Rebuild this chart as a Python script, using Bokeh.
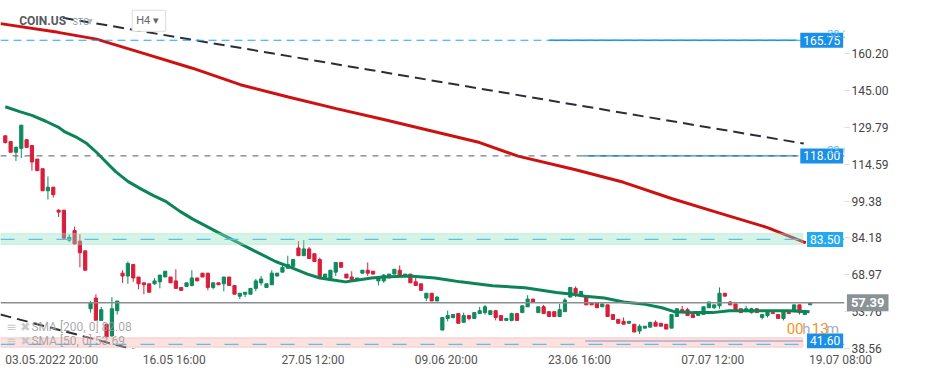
from bokeh.plotting import figure
from bokeh.models import (ColumnDataSource, FixedTicker, PrintfTickFormatter, Span,
                          BoxAnnotation, Label, Range1d)
from bokeh.embed import file_html
from bokeh.resources import INLINE

# ---------------- data (H4 candles, COIN.US) ----------------
opens = [126.3, 123.9, 119.5, 121.1, 124.7, 122.3, 116.7, 112.7, 103.6, 105.1,
         95.6, 95.6, 83.2, 87.2, 82.8, 78.8, 54.9, 59.3, 50.1, 48.5,
         43.7, 54.1, 69.6, 68.4, 73.2, 68.0, 65.6, 65.2, 65.2, 66.0,
         68.0, 68.0, 66.4, 63.7, 64.1, 64.5, 67.6, 69.6, 69.6, 63.7,
         65.6, 65.2, 68.0, 64.5, 60.1, 60.9, 60.9, 63.3, 65.6, 63.7,
         64.8, 68.4, 70.0, 71.6, 72.4, 80.0, 76.8, 79.6, 77.6, 75.2,
         67.6, 67.2, 70.0, 74.0, 69.2, 68.0, 66.8, 69.6, 70.8, 70.4,
         66.4, 66.4, 67.6, 69.2, 70.8, 68.4, 69.2, 66.0, 65.2, 59.3,
         61.3, 58.1, 46.1, 50.9, 51.3, 52.9, 49.3, 52.1, 50.9, 52.9,
         53.3, 52.5, 54.1, 52.1, 50.1, 50.1, 52.9, 53.3, 55.7, 58.9,
         53.3, 55.7, 53.7, 53.7, 51.7, 53.7, 59.7, 63.3, 60.1, 59.7,
         57.3, 57.3, 55.7, 56.5, 52.5, 50.5, 49.7, 48.9, 48.5, 45.7,
         46.9, 47.3, 49.3, 48.9, 48.5, 46.9, 51.7, 54.5, 54.5, 52.5,
         52.1, 52.5, 55.3, 55.3, 56.1, 61.3, 57.7, 56.9, 54.9, 53.7,
         53.3, 54.9, 51.3, 52.1, 53.3, 52.5, 50.9, 53.3, 53.7, 56.5,
         52.5, 56.5]
highs = [126.3, 123.9, 121.9, 130.7, 124.7, 122.3, 116.7, 112.7, 109.5, 105.1,
         96.0, 95.6, 85.6, 88.8, 85.6, 78.8, 58.1, 60.9, 55.7, 48.5,
         59.7, 58.1, 70.8, 74.4, 73.2, 68.0, 65.6, 65.2, 67.6, 68.8,
         70.4, 68.0, 71.2, 63.7, 65.6, 70.8, 67.6, 69.6, 69.6, 65.6,
         65.6, 68.0, 68.0, 64.5, 61.3, 61.7, 63.3, 67.2, 68.4, 65.2,
         70.8, 69.6, 73.2, 76.8, 75.2, 82.8, 83.2, 80.4, 77.6, 76.0,
         69.2, 70.8, 74.0, 74.0, 69.2, 70.4, 67.6, 70.8, 74.0, 70.4,
         67.6, 69.2, 69.2, 71.2, 72.8, 69.2, 69.2, 67.6, 65.2, 61.3,
         61.3, 60.1, 51.3, 54.1, 52.5, 52.9, 53.3, 52.1, 53.3, 55.7,
         56.5, 54.1, 54.1, 52.1, 50.9, 53.3, 52.9, 56.1, 60.5, 58.9,
         55.7, 56.5, 53.7, 53.7, 56.9, 59.3, 63.7, 64.1, 62.1, 59.7,
         57.3, 57.7, 56.9, 56.5, 52.5, 50.5, 51.3, 49.7, 48.5, 48.5,
         47.7, 49.3, 50.1, 48.9, 48.5, 52.5, 54.9, 56.1, 55.3, 52.5,
         53.7, 55.7, 57.7, 56.5, 63.7, 61.3, 58.1, 56.9, 54.9, 56.1,
         55.3, 54.9, 52.5, 54.1, 53.3, 52.5, 54.1, 53.3, 56.5, 56.5,
         53.3, 57.7]
lows = [123.1, 119.5, 115.9, 117.1, 121.5, 111.9, 111.9, 103.6, 100.0, 100.8,
        92.8, 83.6, 82.4, 81.6, 72.0, 70.8, 53.3, 50.1, 50.1, 43.3,
        43.3, 52.5, 65.6, 65.2, 66.0, 62.9, 60.9, 61.7, 64.8, 63.3,
        68.0, 65.6, 63.3, 62.5, 64.1, 64.1, 66.4, 68.0, 62.5, 62.9,
        64.8, 62.1, 64.5, 60.9, 58.9, 59.7, 60.9, 62.1, 64.5, 63.7,
        64.8, 68.4, 70.0, 71.6, 72.4, 76.8, 76.8, 75.6, 74.4, 68.0,
        67.6, 67.2, 68.4, 72.0, 67.6, 66.4, 66.8, 69.6, 68.4, 69.2,
        64.5, 65.6, 67.6, 69.2, 68.4, 68.4, 65.6, 64.5, 62.5, 58.1,
        58.1, 58.1, 46.1, 49.7, 50.9, 48.9, 49.3, 50.1, 50.9, 52.9,
        52.5, 52.5, 50.1, 50.1, 50.1, 49.7, 50.1, 53.3, 55.7, 57.7,
        53.3, 52.9, 51.7, 51.7, 51.7, 53.7, 59.7, 59.7, 60.1, 56.5,
        56.5, 55.3, 55.7, 51.7, 50.5, 48.9, 48.5, 48.9, 45.3, 44.5,
        46.9, 47.3, 47.7, 47.7, 46.5, 46.9, 51.7, 53.3, 52.1, 51.3,
        52.1, 52.5, 55.3, 54.9, 54.9, 60.1, 56.5, 54.1, 53.3, 53.7,
        52.9, 53.3, 50.5, 51.3, 52.9, 50.9, 50.1, 52.9, 53.7, 52.5,
        52.5, 56.5]
closes = [123.5, 119.5, 121.5, 130.7, 121.5, 115.5, 111.9, 103.6, 105.1, 102.0,
          94.8, 84.0, 84.4, 81.6, 78.0, 70.8, 57.3, 50.1, 54.5, 43.3,
          54.9, 58.1, 68.4, 73.6, 67.6, 65.2, 64.8, 61.7, 66.4, 68.8,
          70.4, 65.6, 63.3, 62.5, 65.6, 67.6, 66.4, 68.0, 63.7, 65.6,
          64.8, 68.0, 64.5, 60.9, 61.3, 61.7, 63.3, 66.4, 67.2, 65.2,
          69.6, 69.6, 72.0, 73.2, 75.2, 76.8, 79.6, 75.6, 74.4, 68.0,
          69.2, 70.8, 74.0, 72.0, 67.6, 66.4, 67.6, 70.8, 69.6, 69.2,
          67.6, 68.8, 69.2, 71.2, 68.4, 69.2, 65.6, 64.5, 62.5, 61.3,
          58.1, 59.7, 51.3, 52.1, 52.5, 48.9, 52.1, 50.9, 53.3, 54.1,
          55.7, 54.1, 51.3, 50.1, 50.9, 52.9, 50.1, 56.1, 58.9, 57.7,
          55.7, 52.9, 51.7, 51.7, 54.5, 58.5, 63.7, 61.3, 62.1, 56.5,
          56.5, 55.3, 56.9, 51.7, 50.5, 48.9, 48.5, 49.7, 45.3, 47.7,
          47.7, 49.3, 47.7, 47.7, 46.5, 52.5, 54.9, 53.3, 52.1, 51.3,
          53.7, 55.7, 57.7, 56.5, 61.3, 60.1, 56.5, 54.1, 53.3, 54.9,
          54.9, 53.3, 52.5, 54.1, 52.9, 50.9, 54.1, 52.9, 56.5, 53.3,
          53.3, 57.4]

# moving averages (bar index, value)
sma50_idx = [0, 2.7, 5.0, 7.6, 9.9, 11.2, 13.5, 15.3, 17.1, 18.9, 20.7, 23.0, 25.5, 27.9, 30.2,
             32.7, 35.1, 39.9, 43.5, 47.1, 50.7, 53.1, 56.7, 59.0, 61.5, 63.8, 66.2, 68.7, 71.0,
             75.9, 80.6, 83.1, 85.4, 91.4, 97.5, 103.4, 106.5, 108.8, 112.4, 116.0, 119.6, 123.2,
             125.5, 129.1, 132.7, 135.8, 141.2, 147.1, 150.9]
sma50_val = [138.3, 136.3, 134.7, 132.3, 129.9, 127.9, 125.5, 123.1, 119.5, 115.5, 111.5, 107.5, 104.3,
             101.5, 99.1, 95.2, 92.0, 86.4, 82.4, 78.4, 74.4, 72.4, 69.2, 67.6, 66.8, 66.0, 66.8, 67.6,
             68.0, 68.4, 67.6, 66.8, 66.0, 64.4, 63.6, 61.6, 60.9, 60.1, 59.3, 57.7, 56.9, 55.3, 53.7,
             53.3, 53.3, 54.1, 54.1, 54.1, 53.7]
sma200_idx = [-0.9, 9.9, 17.1, 26.1, 35.1, 44.1, 53.1, 62.1, 71.0, 80.0, 89.0, 96.2, 107.0,
              116.0, 125.0, 134.0, 143.0, 150.2]
sma200_val = [172.6, 169.0, 166.2, 160.2, 154.2, 147.4, 142.3, 137.5, 133.0, 128.3, 123.5, 117.9,
              112.3, 107.1, 100.4, 94.4, 88.4, 82.1]

# trend lines (bar index, price)
trend1_idx = [10.8, 149.8]
trend1_val = [175.0, 123.1]
trend2_idx = [-0.9, 26.0]
trend2_val = [52.5, 37.0]

# levels
fib_levels = [165.75, 118.00]
fib_names = ["38.2", "23.6"]
fib_start = [102.0, 108.3]
zone_hi = [86.0, 42.9]
zone_lo = [81.4, 39.0]
zone_mid = [83.5, 40.2]
zone_labels = ["83.50", "41.60"]
support_level = 41.60
support_start = 108.8
last_price = 57.39

y_ticks = [38.56, 53.76, 68.97, 84.18, 99.38, 114.59, 129.79, 145.00, 160.20]
x_tick_pos = [9, 32, 58, 83, 108, 133, 157]
x_tick_labels = ["03.05.2022  20:00", "16.05  16:00", "27.05  12:00", "09.06  20:00",
                 "23.06  16:00", "07.07  12:00", "19.07  08:00"]

sma_legend = ["SMA [200, 0] 82.08", "SMA [50, 0] 53.69"]

# ---------------- figure ----------------
GREEN = "#0f8a5d"
RED = "#d81e3a"
FONT = "Roboto"

x = list(range(len(closes)))
colors = [GREEN if c >= o else RED for o, c in zip(opens, closes)]
src = ColumnDataSource(dict(
    x=x, open=opens, high=highs, low=lows, close=closes, color=colors,
    top=[max(o, c) for o, c in zip(opens, closes)],
    bottom=[min(o, c) for o, c in zip(opens, closes)],
))

p = figure(width=933, height=369, x_range=Range1d(-0.9, 157.45), y_range=Range1d(38.49, 182.15),
           y_axis_location="right", output_backend="svg", toolbar_location=None,
           min_border_left=0, min_border_top=0, min_border_right=60, min_border_bottom=20,
           background_fill_color="white", border_fill_color="white", outline_line_color=None)
p.grid.visible = False

# axes
p.yaxis.ticker = FixedTicker(ticks=y_ticks)
p.yaxis.formatter = PrintfTickFormatter(format="%.2f")
p.yaxis.axis_line_color = None
p.yaxis.major_tick_in = 0
p.yaxis.major_tick_out = 5
p.yaxis.major_tick_line_color = "#dddddd"
p.yaxis.minor_tick_line_color = None
p.yaxis.major_label_text_font = FONT
p.yaxis.major_label_text_font_size = "12px"
p.yaxis.major_label_text_color = "#444444"
p.yaxis.major_label_standoff = 2

p.xaxis.ticker = FixedTicker(ticks=x_tick_pos)
p.xaxis.major_label_overrides = {k: v for k, v in zip(x_tick_pos, x_tick_labels)}
p.xaxis.axis_line_color = None
p.xaxis.major_tick_line_color = None
p.xaxis.major_tick_out = 0
p.xaxis.major_tick_in = 0
p.xaxis.minor_tick_line_color = None
p.xaxis.major_label_text_font = FONT
p.xaxis.major_label_text_font_size = "12px"
p.xaxis.major_label_text_color = "#555555"
p.xaxis.major_label_standoff = 4

# title backdrop
p.add_layout(BoxAnnotation(left=0.5, right=17.0, bottom=170.0, top=177.5,
                           fill_color="white", fill_alpha=0.8, line_color=None, level="underlay"))

# candles
p.segment(x0="x", y0="low", x1="x", y1="high", line_color="color", line_width=1, source=src)
p.vbar(x="x", width=0.6, top="top", bottom="bottom", fill_color="color", line_color="color",
       line_width=1, source=src)

# moving averages
p.line(sma200_idx, sma200_val, line_color="#cf1010", line_width=3)
p.line(sma50_idx, sma50_val, line_color="#0b8558", line_width=3)

# trend lines
p.line(trend1_idx, trend1_val, line_color="#2a2e36", line_width=2, line_dash="11 6")
p.line(trend2_idx, trend2_val, line_color="#2a2e36", line_width=2, line_dash="11 6")

# zones
zone_fill = ["#8fe3c3", "#f7b0b0"]
zone_line = ["#9fdcc3", "#f2a3a3"]
for hi, lo, fc, lc in zip(zone_hi, zone_lo, zone_fill, zone_line):
    p.add_layout(BoxAnnotation(bottom=lo, top=hi, right=149.6, fill_color=fc, fill_alpha=0.38,
                               line_color=lc, line_width=1.5))
for m in zone_mid:
    p.add_layout(Span(location=m, dimension="width", line_color="#5bbfe8", line_width=1.2,
                      line_dash="14 14"))

# fib levels
p.add_layout(Span(location=fib_levels[0], dimension="width", line_color="#17a8ff",
                  line_width=1.2, line_dash="8 5"))
p.add_layout(Span(location=fib_levels[1], dimension="width", line_color="#555a60",
                  line_width=1, line_dash="6 6"))
p.segment(x0=fib_start, y0=fib_levels, x1=[148.4, 148.4], y1=fib_levels,
          line_color="#1a8fe8", line_width=1.3)
p.segment(x0=[support_start], y0=[support_level], x1=[149.6], y1=[support_level],
          line_color="#7fa8d8", line_width=1.5)

# last price line
p.add_layout(Span(location=last_price, dimension="width", line_color="#8a8d90", line_width=1.5))

# level labels
for lv, nm in zip(fib_levels, fib_names):
    p.add_layout(Label(x=157.2, y=lv, text=f"{lv:.2f}", text_align="right", text_baseline="middle",
                       text_color="white", text_font=FONT, text_font_size="12px",
                       background_fill_color="#1a8fe8", padding=3))
    p.add_layout(Label(x=154.2, y=lv + 2.6, text=nm, text_align="left", text_baseline="middle",
                       text_color="#56b8f2", text_font=FONT, text_font_size="11px"))
for m, t, bg in zip([zone_mid[0], support_level], zone_labels, ["#22a9f0", "#1a8fe8"]):
    p.add_layout(Label(x=157.2, y=m, text=t, text_align="right", text_baseline="middle",
                       text_color="white", text_font=FONT, text_font_size="12px",
                       background_fill_color=bg, padding=3))

# current price tag (on the axis side)
p.add_layout(Label(x=157.9, y=last_price, text=f"{last_price:.2f}", text_align="left",
                   text_baseline="middle", text_color="white", text_font=FONT,
                   text_font_size="13px", text_font_style="bold",
                   background_fill_color="#8a9396", padding=4), "right")

# countdown
cd_parts = [("00", "#f7931e", 146.6), ("h", "#aab0b5", 149.5), ("13", "#f7931e", 151.3), ("m", "#aab0b5", 154.0)]
for t, c, xi in cd_parts:
    p.add_layout(Label(x=xi, y=46.6, text=t, text_align="left", text_baseline="middle",
                       text_color=c, text_font=FONT, text_font_size="15px"))

# indicator legend
for yv, t in zip([47.3, 41.7], sma_legend):
    p.add_layout(Label(x=0.2, y=yv, text="\u2261 \u2716", text_align="left", text_baseline="middle",
                       text_color="#c8c8c8", text_font="DejaVu Sans", text_font_size="12px"))
    p.add_layout(Label(x=4.9, y=yv, text=t, text_align="left", text_baseline="middle",
                       text_color="#9a9a9a", text_alpha=0.85, text_font=FONT, text_font_size="12px"))

# header
p.add_layout(Label(x=2.6, y=173.8, text="COIN.US", text_align="left", text_baseline="middle",
                   text_color="#555a60", text_font=FONT, text_font_size="12px", text_font_style="bold"))
p.add_layout(Label(x=12.6, y=173.4, text="STC", text_align="left", text_baseline="middle",
                   text_color="#8a9aa8", text_font=FONT, text_font_size="9px"))
p.add_layout(Label(x=15.3, y=173.8, text="\u25be", text_align="left", text_baseline="middle",
                   text_color="#b8bcc0", text_font="DejaVu Sans", text_font_size="12px"))
p.add_layout(Label(x=23.8, y=173.8, text="H4  \u25be", text_align="left", text_baseline="middle",
                   text_color="#666666", text_font=FONT, text_font_size="11px",
                   border_line_color="#dddddd", background_fill_color="white", padding=4))

open("out.html", "w").write(file_html(p, INLINE))
